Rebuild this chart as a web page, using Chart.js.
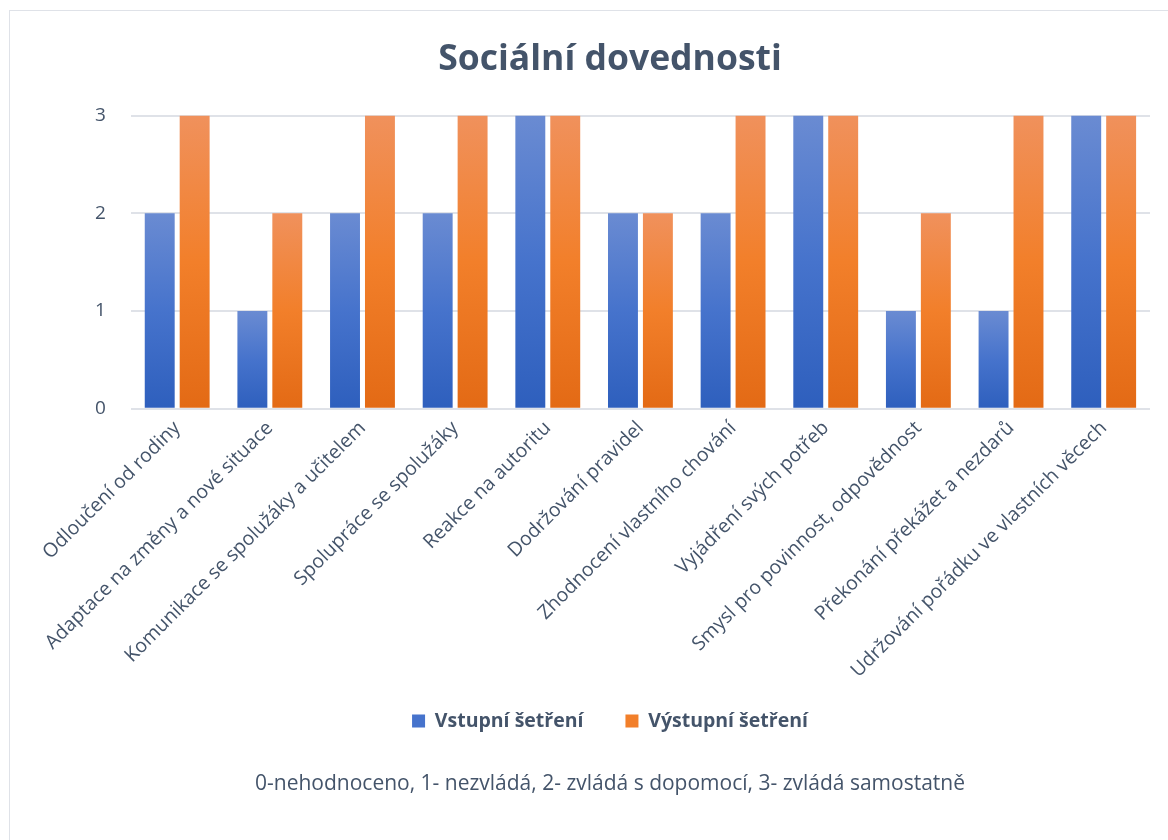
<!DOCTYPE html>
<html>
<head>
<meta charset="utf-8">
<script src="https://cdn.jsdelivr.net/npm/chart.js@4"></script>
<style>
html,body{margin:0;padding:0;background:#fff;overflow:hidden;}
#frame{position:absolute;left:9px;top:10px;width:1200px;height:900px;border:1px solid #dfe2e8;box-sizing:border-box;}
#wrap{position:absolute;left:0;top:0;width:1168px;height:840px;}
</style>
</head>
<body>
<div id="frame"></div>
<div id="wrap"><canvas id="c" width="1168" height="840"></canvas></div>
<script>
const categories = [
  "Odloučení od rodiny",
  "Adaptace na změny a nové situace",
  "Komunikace se spolužáky a učitelem",
  "Spolupráce se spolužáky",
  "Reakce na autoritu",
  "Dodržování pravidel",
  "Zhodnocení vlastního chování",
  "Vyjádření svých potřeb",
  "Smysl pro povinnost, odpovědnost",
  "Překonání překážet a nezdarů",
  "Udržování pořádku ve vlastních věcech"
];
const vstupni = [2, 1, 2, 2, 3, 2, 2, 3, 1, 1, 3];
const vystupni = [3, 2, 3, 3, 3, 2, 3, 3, 2, 3, 3];
const seriesNames = ["Vstupní šetření", "Výstupní šetření"];
const yTicks = [0, 1, 2, 3];
const titleText = "Sociální dovednosti";
const footnote = "0-nehodnoceno, 1- nezvládá, 2- zvládá s dopomocí, 3- zvládá samostatně";

const textColor = "#44546a";
const AXIS_SHRINK = 13;

function barGradient(top, bottom, solid) {
  return function (ctx) {
    const chart = ctx.chart;
    const y = chart.scales && chart.scales.y;
    if (!y || ctx.type !== 'data') return solid;
    const v = ctx.raw;
    const yTop = y.getPixelForValue(v);
    const yBot = y.getPixelForValue(0);
    if (!isFinite(yTop) || !isFinite(yBot) || yTop === yBot) return solid;
    const g = chart.ctx.createLinearGradient(0, yTop, 0, yBot);
    g.addColorStop(0, top);
    g.addColorStop(0.5, solid);
    g.addColorStop(1, bottom);
    return g;
  };
}

// let rotated x labels draw below the (shrunk) axis box without being clipped
const unclipLabels = {
  id: 'unclipLabels',
  afterLayout(chart) {
    const x = chart.scales.x;
    if (x) x.bottom += AXIS_SHRINK + 20;
  }
};

new Chart(document.getElementById('c'), {
  type: 'bar',
  data: {
    labels: categories,
    datasets: [
      {
        label: seriesNames[0],
        data: vstupni,
        backgroundColor: barGradient('#6a8bd2', '#2e5fbd', '#4673cc'),
        borderWidth: 0,
        inflateAmount: 0
      },
      {
        label: seriesNames[1],
        data: vystupni,
        backgroundColor: barGradient('#f0915c', '#e36a15', '#f27f2a'),
        borderWidth: 0,
        inflateAmount: 0
      }
    ]
  },
  plugins: [unclipLabels],
  options: {
    responsive: false,
    animation: false,
    devicePixelRatio: 1,
    categoryPercentage: 0.754,
    barPercentage: 0.857,
    layout: { padding: { left: 70, right: 18, top: 23, bottom: 43 } },
    plugins: {
      tooltip: { enabled: false },
      title: {
        display: true,
        text: titleText,
        color: textColor,
        font: { family: 'Open Sans', size: 35.5, weight: 'bold' },
        padding: { top: 16, bottom: 34 }
      },
      legend: {
        position: 'bottom',
        labels: {
          color: textColor,
          font: { family: 'Open Sans', size: 19.5, weight: 'bold' },
          boxWidth: 13,
          boxHeight: 13,
          padding: 42,
          generateLabels: function (chart) {
            const fills = ['#4673cc', '#f27f2a'];
            return chart.data.datasets.map((ds, i) => ({
              text: ds.label,
              fillStyle: fills[i],
              strokeStyle: fills[i],
              lineWidth: 0,
              hidden: false,
              datasetIndex: i,
              fontColor: textColor
            }));
          }
        }
      },
      subtitle: {
        display: true,
        position: 'bottom',
        text: footnote,
        color: textColor,
        font: { family: 'Open Sans', size: 21 },
        padding: { top: 31, bottom: 0 }
      }
    },
    scales: {
      x: {
        grid: { display: false },
        border: { display: false },
        afterFit: function (scale) { scale.height -= AXIS_SHRINK; },
        ticks: {
          color: textColor,
          font: { family: 'Open Sans', size: 19.5 },
          maxRotation: 45,
          minRotation: 45,
          autoSkip: false,
          padding: 0
        }
      },
      y: {
        min: 0,
        max: 3,
        afterBuildTicks: function (axis) { axis.ticks = yTicks.map(v => ({ value: v })); },
        grid: { color: '#dfe2e8', lineWidth: 2, drawTicks: false },
        border: { display: false },
        ticks: {
          color: textColor,
          font: { family: 'Open Sans', size: 19 },
          padding: 25
        }
      }
    }
  }
});
</script>
</body>
</html>
